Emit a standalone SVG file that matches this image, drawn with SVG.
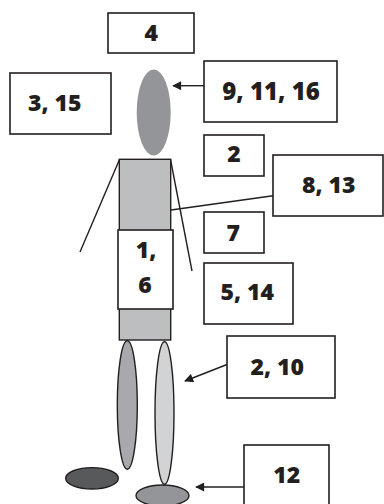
<svg xmlns="http://www.w3.org/2000/svg" width="384" height="504" viewBox="0 0 384 504">
  <style>
    .box { fill: #ffffff; stroke: #231f20; stroke-width: 1.6; }
    .lbl { font-family: "Open Sans", "Liberation Sans", sans-serif; font-weight: 800; font-size: 23px; fill: #231f20; text-anchor: middle; }
    .ln { stroke: #231f20; stroke-width: 1.4; fill: none; }
    .part { stroke: #231f20; stroke-width: 1.4; }
  </style>
  <defs>
    <marker id="head" viewBox="0 0 10 10" refX="9" refY="5" markerWidth="10" markerHeight="9" markerUnits="userSpaceOnUse" orient="auto">
      <path d="M0,0 L10,5 L0,10 Z" fill="#231f20"/>
    </marker>
  </defs>

  <rect width="384" height="504" fill="#ffffff"/>

  <!-- figure -->
  <g id="figure">
    <ellipse id="head-shape" cx="153.7" cy="112.5" rx="17" ry="43" fill="#939598"/>
    <line class="ln" x1="119.5" y1="159.5" x2="80" y2="252"/>
    <line class="ln" x1="170.5" y1="159.5" x2="192" y2="271"/>
    <rect class="part" x="119.3" y="159.3" width="51.4" height="180.7" fill="#bcbec0"/>
    <ellipse class="part" cx="127.3" cy="405" rx="10" ry="64.3" fill="#a7a9ac"/>
    <ellipse class="part" cx="164.5" cy="413" rx="9.5" ry="71.3" fill="#d1d3d4"/>
    <ellipse class="part" cx="92" cy="478.3" rx="26.3" ry="10.7" fill="#58595b"/>
    <ellipse class="part" cx="162.5" cy="495.5" rx="26.5" ry="10.5" fill="#939598"/>
  </g>

  <!-- connectors -->
  <g id="connectors">
    <line class="ln" x1="204" y1="85.7" x2="173" y2="85.7" marker-end="url(#head)"/>
    <line class="ln" x1="171" y1="210" x2="273" y2="195.7"/>
    <line class="ln" x1="227" y1="364.5" x2="185" y2="381" marker-end="url(#head)"/>
    <line class="ln" x1="244" y1="487" x2="196" y2="487" marker-end="url(#head)"/>
  </g>

  <g id="n4">
    <rect class="box" x="108" y="13" width="86" height="40"/>
    <text class="lbl" x="151.3" y="40.7">4</text>
  </g>
  <g id="n3-15">
    <rect class="box" x="10" y="73" width="101" height="61"/>
    <text class="lbl" x="54.7" y="111">3, 15</text>
  </g>
  <g id="n9-11-16">
    <rect class="box" x="204" y="61" width="133" height="61"/>
    <text class="lbl" x="271" y="100" style="font-size:24px">9, 11, 16</text>
  </g>
  <g id="n2">
    <rect class="box" x="204" y="135" width="60" height="41"/>
    <text class="lbl" x="234" y="161.7">2</text>
  </g>
  <g id="n8-13">
    <rect class="box" x="273" y="155" width="110" height="61"/>
    <text class="lbl" x="328.8" y="193.3">8, 13</text>
  </g>
  <g id="n7">
    <rect class="box" x="204" y="212" width="60" height="41"/>
    <text class="lbl" x="233.3" y="240.7">7</text>
  </g>
  <g id="n1-6">
    <rect class="box" x="118" y="230" width="55" height="79"/>
    <text class="lbl" x="146" y="257.7">1,</text>
    <text class="lbl" x="145" y="292.7">6</text>
  </g>
  <g id="n5-14">
    <rect class="box" x="204" y="263" width="89" height="61"/>
    <text class="lbl" x="247.2" y="300">5, 14</text>
  </g>
  <g id="n2-10">
    <rect class="box" x="227" y="336" width="108" height="62"/>
    <text class="lbl" x="277.2" y="375">2, 10</text>
  </g>
  <g id="n12">
    <rect class="box" x="244" y="445" width="85" height="66"/>
    <text class="lbl" x="286.7" y="483.3">12</text>
  </g>
</svg>
